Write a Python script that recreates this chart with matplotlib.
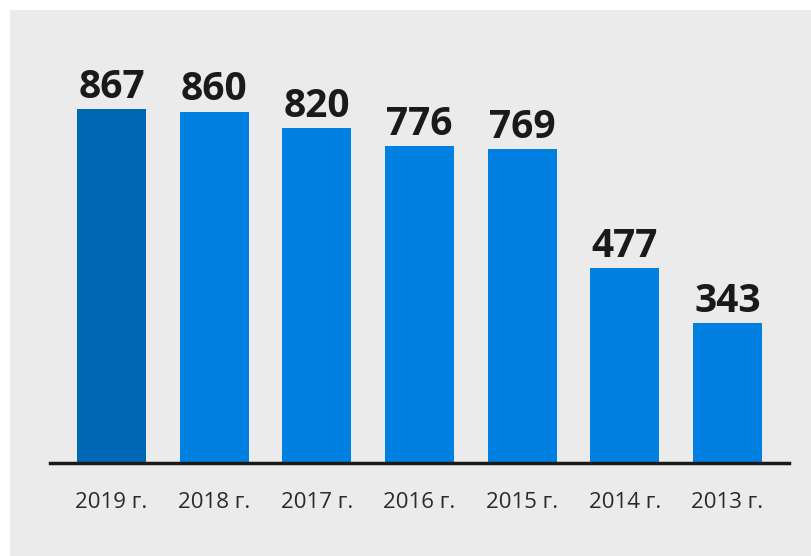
import matplotlib.pyplot as plt
from matplotlib.patches import Rectangle

# данные
years = ["2019 г.", "2018 г.", "2017 г.", "2016 г.", "2015 г.", "2014 г.", "2013 г."]
values = [867, 860, 820, 776, 769, 477, 343]
colors = ["#0067b5"] + ["#0080e0"] * 6

fig = plt.figure(figsize=(8.12, 5.56), dpi=100)
fig.patch.set_facecolor("white")
# серый фон
fig.patches.append(Rectangle((10 / 812, 0), 1, 1 - 10 / 556, transform=fig.transFigure,
                             facecolor="#ebebeb", edgecolor="none", zorder=-1))

ax = fig.add_axes([50 / 812, 93 / 556, 739 / 812, 423 / 556])
ax.set_facecolor("none")

x = list(range(len(values)))
ax.bar(x, values, width=0.67, color=colors, zorder=2)

for xi, v in zip(x, values):
    ax.text(xi, v + 6, str(v), ha="center", va="bottom", fontsize=28,
            fontweight="bold", family="Open Sans", color="#1a1a1a")

ax.set_xlim(-0.6, 6.6)
ax.set_ylim(0, 423 / (354 / 867))
ax.set_xticks(x)
ax.set_xticklabels(years, fontsize=16, family="Open Sans", color="#2a2a2a")
ax.tick_params(axis="x", length=0, pad=21)
ax.set_yticks([])
for s in ["top", "right", "left"]:
    ax.spines[s].set_visible(False)
ax.spines["bottom"].set_linewidth(2.5)
ax.spines["bottom"].set_color("#1a1a1a")
ax.spines["bottom"].set_zorder(3)

fig.savefig("out.png", dpi=100)
